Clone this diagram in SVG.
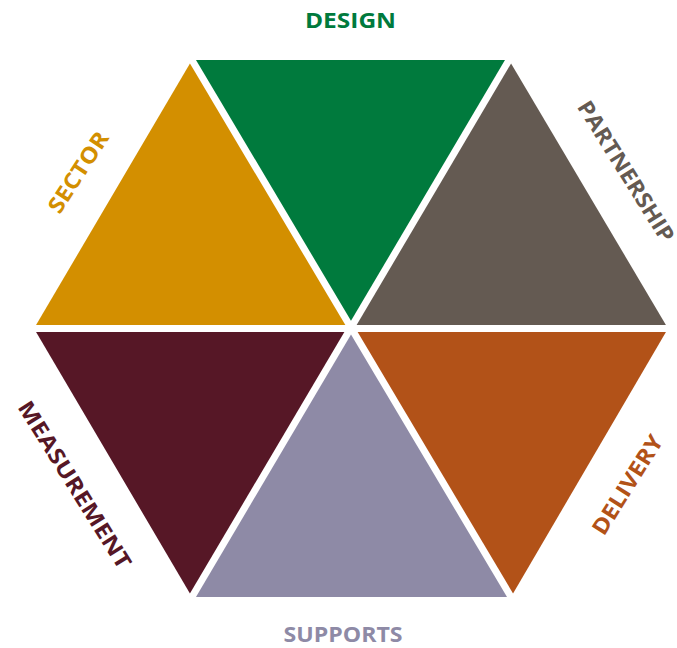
<svg xmlns="http://www.w3.org/2000/svg" width="677" height="648" viewBox="0 0 677 648">
<style>
.lbl{font-family:"Open Sans","Liberation Sans",sans-serif;font-weight:bold;font-size:22px;text-anchor:middle}
.sep{stroke:#ffffff;stroke-width:7;fill:none}
</style>
<rect width="677" height="648" fill="#ffffff"/>
<g id="design">
<polygon points="192,60 509,60 351,328.5" fill="#007A3D"/>
<text class="lbl" x="350.5" y="27.7" fill="#007A3D" textLength="91" lengthAdjust="spacingAndGlyphs">DESIGN</text>
</g>
<g id="partnership">
<polygon points="509,60 668,328.5 351,328.5" fill="#645A52"/>
<text class="lbl" transform="translate(619.5,175.5) rotate(58)" fill="#645A52" textLength="162" lengthAdjust="spacingAndGlyphs">PARTNERSHIP</text>
</g>
<g id="delivery">
<polygon points="668,328.5 511,597 351,328.5" fill="#B25218"/>
<text class="lbl" transform="translate(633.9,488.9) rotate(-58)" fill="#B25218" textLength="113" lengthAdjust="spacingAndGlyphs">DELIVERY</text>
</g>
<g id="supports">
<polygon points="511,597 192,597 351,328.5" fill="#8E8AA6"/>
<text class="lbl" x="343" y="642.3" fill="#8E8AA6" textLength="119" lengthAdjust="spacingAndGlyphs">SUPPORTS</text>
</g>
<g id="measurement">
<polygon points="192,597 34,328.5 351,328.5" fill="#561726"/>
<text class="lbl" transform="translate(68.1,488.9) rotate(58)" fill="#561726" textLength="193" lengthAdjust="spacingAndGlyphs">MEASUREMENT</text>
</g>
<g id="sector">
<polygon points="34,328.5 192,60 351,328.5" fill="#D38F00"/>
<text class="lbl" transform="translate(84.7,176.4) rotate(-57)" fill="#D38F00" textLength="92" lengthAdjust="spacingAndGlyphs">SECTOR</text>
</g>
<g id="separators">
<line class="sep" x1="20" y1="328.5" x2="680" y2="328.5"/>
<line class="sep" x1="186" y1="50" x2="517" y2="607"/>
<line class="sep" x1="515" y1="50" x2="186" y2="607"/>
</g>
</svg>
